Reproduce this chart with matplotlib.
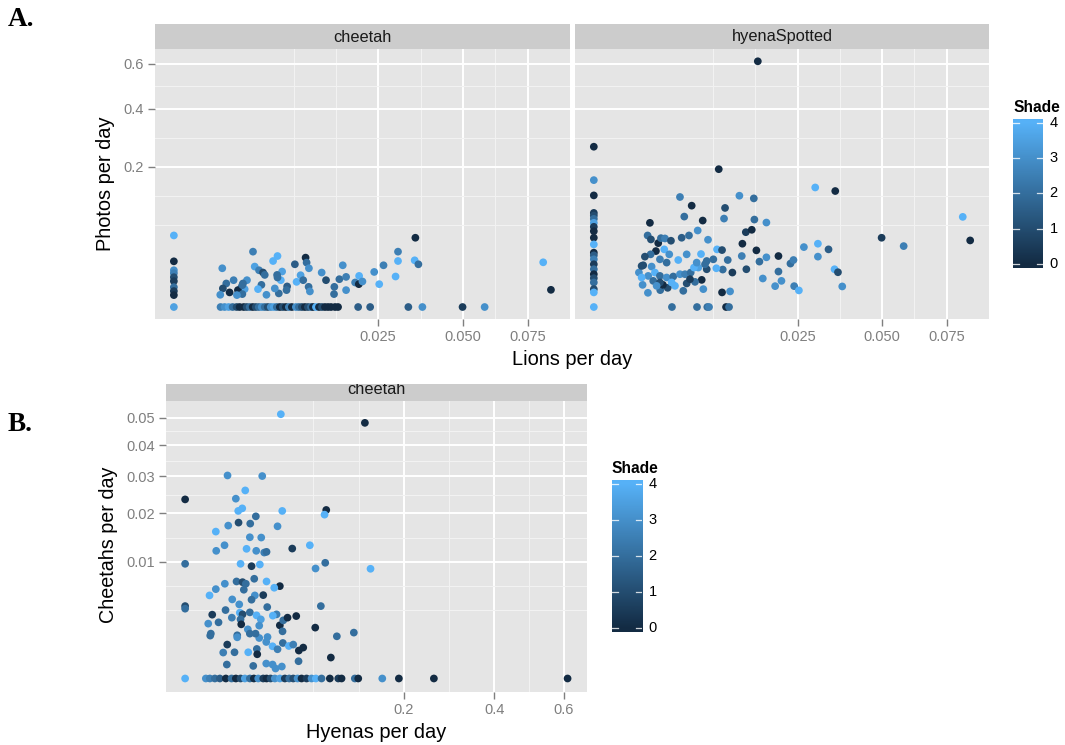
import numpy as np
import matplotlib
matplotlib.use("Agg")
import matplotlib.pyplot as plt
from matplotlib.colors import LinearSegmentedColormap

# ---------------- data ----------------
# Panel A, facet "cheetah": Lions per day vs cheetah photos per day
a_cheetah_lions = [
    0, 0, 0, 0, 0, 0, 0, 0, 0, 0,
    .001305, .00154, .001793, .002066, .002358, .00259, .002916, .003173, .003441, .003721,
    .004011, .004311, .004623, .004945, .005278, .005622, .005977, .006343, .006719, .007107,
    .007506, .007915, .008335, .008913, .009358, .009815, .01028, .01076, .01125, .01158,
    .01209, .01261, .01313, .01367, .01423, .01479, .01555, .01614,
    .02033, .02307, .03292, .03698, .0499, .05783,
    .001403, .003749, .00643, .005894, .003912, .004341, .004761, .004945, .007016, .00638,
    .006848, .008767, .01039, .01055, .01092, .009616, .009015, .01002, .01087, .01108,
    .007682, .0076, .006593, .006098, .00459, .00424, .005132, .0032, .002858, .002726,
    .003001, .002457, .002808, .002381, .002137, .001645, .001438, .001859, .001289, .01308,
    .01386, .01542, .01536, .0164, .01708, .01776, .01776, .01967, .02055, .02048,
    .02129, .02403, .02525, .02632, .02943, .03008, .03008, .03492, .03472, .0358,
    .08167, .08513, .00643, .002808,
]
a_cheetah_photos = [
    .052, .0212, .01373, .0116, .00902, .00678, .00401, .00257, .00144, 0,
    0, 0, 0, 0, 0, 0, 0, 0, 0, 0,
    0, 0, 0, 0, 0, 0, 0, 0, 0, 0,
    0, 0, 0, 0, 0, 0, 0, 0, 0, 0,
    0, 0, 0, 0, 0, 0, 0, 0,
    0, 0, 0, 0, 0, 0,
    .01525, .03111, .02639, .02149, .01661, .01373, .01207, .01046, .01278, .01046,
    .00731, .01854, .02477, .02003, .01525, .01027, .006418, .00731, .004132, .002472,
    .004297, .002898, .001882, .003506, .004986, .003249, .001517, .00731, .005632, .003891,
    .003249, .002898, .001695, .001444, .00731, .005632, .003506, .002167, .001517, .01207,
    .00731, .004132, .001695, .007861, .01769, .009206, .002898, .006117, .009823, .005304,
    .006623, .01249, .005304, .01769, .00945, .02149, .03111, .04871, .02215, .01854,
    .0203, .003001, .008845, .004853,
]
a_cheetah_shade = [
    4, 0, 3, 2.5, 1, 0.5, 2, 0.5, 0, 3.5,
    2.5, 3, 3.5, 2, 1, 0, 0, 1, 2, 0,
    1, 2, 3, 2, 1, 3, 3.5, 2, 0, 1,
    0, 2.5, 0, 3, 2, 1, 0, 1, 2, 0,
    4, 0, 1, 0, 0, 0, 0, 0,
    1.5, 1.5, 1.5, 3, 0.5, 3,
    3, 2.5, 4, 4, 3.5, 2.5, 1, 2, 3.5, 2,
    4, 1.5, 0, 2, 3, 3.5, 4, 2, 2, 3,
    1.5, 2, 2, 3, 2, 4, 3, 3, 2, 2,
    3.5, 0, 2, 3, 2.5, 2, 1, 0, 3, 3,
    1, 2, 2, 2, 3, 2.5, 3, 2.5, 4, 0,
    3, 3, 4, 2.5, 4, 4, 2.5, 0, 4, 2,
    4, 0, 2, 2,
]

# Panel A, facet "hyenaSpotted": Lions per day vs hyena photos per day
a_hyena_lions = [
    0, 0, 0, 0, 0, 0, 0, 0, 0, 0, 0, 0, 0, 0, 0, 0, 0, 0, 0, 0, 0, 0,
    .003673, .006405, .00775, .007985, .01052, .011,
    .01618, .00939, .02949, .03507, .004465, .01275, .0154, .005763, .01036, .004923,
    .0102, .01551, .01792, .001893, .007134, .08189, .006492, .0139, .01501, .04983,
    .08522, .05776, .004643, .005449, .007846, .01328, .03021, .02655, .03314, .03021,
    .0159, .009134, .009892, .01079, .01317, .0165, .01792, .02051, .02326, .02398,
    .02051, .01718, .02118, .01978, .02415, .0253, .03486, .03586, .03713, .014,
    .01155, .01, .009031, .008593, .006912, .006568, .007668, .007003, .007213, .009892,
    .01117, .004815, .005188, .003961, .00328, .002654, .002874, .001761, .001432, .001223,
    .001467, .001741, .001962, .002496, .00271, .003044, .00358, .00232, .002984, .003423,
    .005188, .00429, .003191, .00263, .001941, .00157, .001374, .00201, .002247, .00263,
    .003191, .003797, .004465, .005, .005646, .006037, .006368, .007439, .007668, .00178,
    .001374, .002123, .00263, .006159, .005564, .003645, .002373,
]
a_hyena_photos = [
    .2609, .1635, .1265, .08993, .08487, .0789, .07194, .0653, .05837, .04871,
    .0398, .03, .02711, .0231, .01854, .01448, .01092, .008433, .006117, .003249, .002167, 0,
    0, 0, 0, 0, 0, 0,
    .6131, .1929, .1451, .1366, .1229, .1258, .1198, .1043, .09967, .08303,
    .07942, .07765, .07245, .07194, .07589, .08249, .05945, .05685, .06054, .04871,
    .04501, .03768, .04871, .05198, .04596, .04069, .04069, .03646, .03373, .02577,
    .03258, .03373, .03292, .02243, .02639, .02094, .02507, .02639, .01915, .02243,
    .01278, .00826, .006936, .004422, .004422, .002796, .01448, .01228, .004297, .01448,
    .01207, .01425, .01525, .0231, .02849, .0158, .01448, .007473, .003249, .002167,
    .002472, .002664, .005632, .00455, .003735, .002898, .004986, .00205, .004986, .01207,
    .01769, .05198, .04637, .04146, .04815, .04774, .04461, .03178, .03373, .02817,
    .02817, .02243, .02003, .0231, .02817, .02577, .01711, .01661, .01207, .009823,
    .008845, .00945, .01092, .01092, .01207, .0158, .02003, .01854, .02149, .009823,
    .008845, .006936, .006117, .006418, .007861, .006117, .00455,
]
a_hyena_shade = [
    0, 3, 0, 0.5, 1, 2, 3.5, 0.5, 0, 0, 4, 0, 1.5, 2.5, 0.5, 2, 0, 1, 2, 1, 4, 4,
    2, 2, 2, 2.5, 0, 2,
    0, 0, 4, 0, 2.5, 3, 2, 0, 1, 2,
    2.5, 2, 3, 0, 0, 4, 3, 0.5, 0, 0.5,
    0, 2.5, 1.5, 2, 3, 0, 4, 3, 1.5, 3,
    0, 4, 1, 2, 2.5, 2, 3, 0, 2, 2.5,
    2, 3, 3, 3, 2.5, 4, 4, 1, 3, 1,
    0.5, 2, 4, 2, 4, 3.5, 1, 0, 3, 0,
    3, 2, 1, 4, 1, 2, 0, 3, 3, 3,
    1, 2, 1, 0, 2, 2.5, 1, 0, 4, 3,
    3, 4, 2, 2.5, 2, 1, 1, 3, 4, 2,
    3, 2, 3, 2.5, 2, 4, 3, 2, 2, 3,
    4, 2, 1, 2, 0.5, 4, 3,
]

# Panel B, facet "cheetah": Hyenas per day vs Cheetahs per day
b_hyenas = [
    0, 0, 0, 0, 0,
    .001792, .002551, .003689, .005036, .006928, .009004, .01075, .01284, .01491, .01751,
    .01974, .02235, .02551, .02771, .0305, .03365, .0375, .04157, .04532, .04887,
    .05284, .05666, .06163, .06682, .07144, .0778, .08756, .09803, .1023, .1204,
    .1253, .1625, .191, .2587, .6115,
    .0383, .1351, .007518, .02486, .01511, .01075, .01179, .01364, .03943, .08326,
    .08127, .0209, .01193, .01772, .007769, .0357, .003941, .01751, .02422, .006492,
    .004045, .01577, .02114, .02617, .02771, .04797, .06503, .01284, .01844, .02334,
    .07111, .08208, .1437, .01105, .01378, .01541, .01997, .02771, .0375, .0332,
    .006591, .003941, .00249, .0144, .02031, .02551, .01844, .009278, .01224, .02819,
    .006826, .01251, .01378, .01751, .02132, .003071, .00912, .01284, .02396, .03494,
    .03216, .05162, .0375, .04025, .04385, .004665, .002232, .01316, .01644, .02296,
    .07701, .09624, .07078, .08878, .119, .007412, .00607, .0102, .01665, .0215,
    .02174, .02751, .03195, .0357, .03992, .04497, .04887, .05406, .05833, .05378,
    .03967, .02751, .03195, .03911, .03418, .02296, .01751, .01135, .007272, .002635,
    .0194, .01135, .002762, .02839, .02073,
]
b_cheetahs = [
    .02356, .00966, .00385, .00358, 0,
    0, 0, 0, 0, 0, 0, 0, 0, 0, 0,
    0, 0, 0, 0, 0, 0, 0, 0, 0, 0,
    0, 0, 0, 0, 0, 0, 0, 0, 0, 0,
    0, 0, 0, 0, 0,
    .0513, .048, .03028, .0301, .02598, .02375, .02062, .02126, .02062, .02086,
    .01972, .01931, .01785, .01762, .01717, .01701, .01585, .01465, .01459, .01304,
    .01197, .01235, .01197, .01165, .01178, .0124, .01304, .00966, .009262, .009544,
    .008887, .00983, .00884, .006916, .006817, .006593, .007305, .006916, .006264, .006049,
    .006593, .005865, .005069, .005787, .005069, .005105, .004559, .004594, .004033, .003745,
    .003438, .003182, .00302, .003211, .002927, .002992, .002718, .002569, .002569, .00302,
    .0029, .002863, .002075, .002483, .002718, .002315, .00221, .002154, .001775, .002052,
    .00385, .001307, .0019, .000322, .001546, .000845, .000494, .000505, .000505, .00064,
    .000431, .000979, .000762, .000627, .000926, .000776, .000845, .000573, .000702, .000219,
    .001634, .000164, .000143, .000105, .000073, .001204, .001479, .00137, .000143, .001351,
    .000116, .001246, .001479, .001264, .001479,
]
b_shade = [
    0, 2, 1, 2, 4,
    3, 2.5, 2, 1.5, 0, 2, 0, 1, 3.5, 2,
    0, 3, 0.5, 0, 1, 3, 3.5, 0.5, 2, 1,
    3, 0, 0.5, 3, 4, 2, 0, 0.5, 0, 2,
    0, 3, 0, 0, 0,
    4, 0, 3, 3, 4, 3, 4, 4, 4, 0,
    4, 2, 1, 2, 3, 3, 4, 3, 3, 3,
    3, 4, 3, 2.5, 2, 0.5, 4, 4, 0.5, 4,
    3, 2, 4, 2, 1, 2, 2, 4, 0, 4,
    3, 3, 4, 2, 3, 0.5, 2, 3, 3, 2,
    2, 4, 1, 2, 4, 0.5, 2.5, 2, 3.5, 2.5,
    4, 0, 0, 2, 0, 2, 3, 0, 3, 3,
    2, 2, 0, 0, 2, 0.5, 2.5, 2, 4, 2,
    0, 3, 4, 2.5, 2, 4, 2.5, 0, 0, 2,
    2, 3, 3, 3, 3, 3, 2, 2, 2, 2,
    2, 3, 2, 3, 2,
]

shade_breaks = [0, 1, 2, 3, 4]
a_x_breaks = [0.025, 0.05, 0.075]
a_x_labels = ["0.025", "0.050", "0.075"]
a_y_breaks = [0.2, 0.4, 0.6]
a_y_labels = ["0.2", "0.4", "0.6"]
b_x_breaks = [0.2, 0.4, 0.6]
b_x_labels = ["0.2", "0.4", "0.6"]
b_y_breaks = [0.01, 0.02, 0.03, 0.04, 0.05]
b_y_labels = ["0.01", "0.02", "0.03", "0.04", "0.05"]

# ---------------- styling ----------------
W, H = 1065, 745
plt.rcParams["font.family"] = ["Liberation Sans", "DejaVu Sans"]
cmap = LinearSegmentedColormap.from_list("gg", ["#132B43", "#346E9D", "#56B1F7"])
PANEL_BG = "#E5E5E5"
STRIP_BG = "#CCCCCC"
GREY50 = "#7F7F7F"

fig = plt.figure(figsize=(W / 100, H / 100), dpi=100)
fig.patch.set_facecolor("white")


def fwd(x):
    x = np.asarray(x, dtype=float)
    return np.sign(x) * np.sqrt(np.abs(x))


def inv(y):
    y = np.asarray(y, dtype=float)
    return np.sign(y) * y ** 2


def px_axes(l, t, r, b):
    return fig.add_axes([l / W, 1 - b / H, (r - l) / W, (b - t) / H])


def expanded_limits(vals):
    s = fwd(vals)
    lo, hi = float(np.min(s)), float(np.max(s))
    d = (hi - lo) * 0.05
    return lo - d, hi + d


def minor_breaks(majors, lim):
    b = list(np.sqrt(majors))
    bd = b[1] - b[0]
    if lim[0] < b[0]:
        b = [b[0] - bd] + b
    if lim[1] > b[-1]:
        b = b + [b[-1] + bd]
    out = []
    for a, c in zip(b[:-1], b[1:]):
        out += [a, (a + c) / 2]
    out.append(b[-1])
    maj = np.sqrt(majors)
    res = [v for v in out if lim[0] <= v <= lim[1] and np.min(np.abs(maj - v)) > 1e-6]
    return [float(inv(v)) for v in res]


def setup_panel(ax, xl, yl, xb, xlab, yb, ylab, show_y=True):
    ax.set_facecolor(PANEL_BG)
    ax.set_xscale("function", functions=(fwd, inv))
    ax.set_yscale("function", functions=(fwd, inv))
    ax.set_xlim(float(inv(xl[0])), float(inv(xl[1])))
    ax.set_ylim(float(inv(yl[0])), float(inv(yl[1])))
    ax.set_xticks(xb)
    ax.set_xticklabels(xlab)
    ax.set_yticks(yb)
    ax.set_yticklabels(ylab if show_y else [])
    ax.set_xticks(minor_breaks(xb, xl), minor=True)
    ax.set_yticks(minor_breaks(yb, yl), minor=True)
    ax.grid(which="minor", color="#F2F2F2", lw=0.75)
    ax.grid(which="major", color="white", lw=1.4)
    ax.set_axisbelow(True)
    for sp in ax.spines.values():
        sp.set_visible(False)
    ax.tick_params(which="major", length=5, width=1.0, color=GREY50,
                   labelcolor=GREY50, labelsize=10.5, pad=3)
    ax.tick_params(which="minor", length=0)
    if not show_y:
        ax.tick_params(axis="y", which="both", length=0)


def strip(l, t, r, b, label, base_frac, clip=False):
    s = px_axes(l, t, r, b)
    s.set_facecolor(STRIP_BG)
    s.set_xticks([])
    s.set_yticks([])
    for sp in s.spines.values():
        sp.set_visible(False)
    s.text(0.5, base_frac, label, ha="center", va="baseline", fontsize=11.8,
           color="#1A1A1A", transform=s.transAxes, clip_on=clip)


def colorbar(l, t, r, b, title_base):
    cax = px_axes(l, t, r, b)
    vals = np.linspace(0, 4, 20)[:, None]
    cax.imshow(vals, cmap=cmap, vmin=0, vmax=4, aspect="auto", origin="lower",
               extent=[0, 1, 0, 20], interpolation="bilinear")
    cax.set_xlim(0, 1)
    cax.set_ylim(0, 20)
    cax.axis("off")
    for k in shade_breaks:
        yy = 0.5 + k / 4 * 19
        cax.plot([0, 0.2], [yy, yy], color="white", lw=0.9, alpha=0.8)
        cax.plot([0.8, 1], [yy, yy], color="white", lw=0.9, alpha=0.8)
        cax.text(1 + 7 / (r - l), yy, str(k), ha="left", va="center",
                 fontsize=10.5, color="black", clip_on=False)
    fig.text(l / W, 1 - title_base / H, "Shade", ha="left", va="baseline",
             fontsize=11.2, fontweight="bold", color="black")


SC = dict(cmap=cmap, vmin=0, vmax=4, s=31, linewidths=0, zorder=3)

# ---------------- Panel A ----------------
a_xlim = expanded_limits(a_cheetah_lions + a_hyena_lions)
a_ylim = expanded_limits(a_cheetah_photos + a_hyena_photos)

ax1 = px_axes(155, 49, 570, 319.3)
setup_panel(ax1, a_xlim, a_ylim, a_x_breaks, a_x_labels, a_y_breaks, a_y_labels)
ax1.scatter(a_cheetah_lions, a_cheetah_photos, c=a_cheetah_shade, **SC)
strip(155, 24, 570, 49, "cheetah", 0.3)

ax2 = px_axes(575, 49, 989, 319.3)
setup_panel(ax2, a_xlim, a_ylim, a_x_breaks, a_x_labels, a_y_breaks, a_y_labels, show_y=False)
ax2.scatter(a_hyena_lions, a_hyena_photos, c=a_hyena_shade, **SC)
strip(575, 24, 989, 49, "hyenaSpotted", 0.3)

colorbar(1013, 119, 1042.7, 267.7, 112.3)

fig.text(572 / W, 1 - 365 / H, "Lions per day", ha="center", va="baseline", fontsize=14.4)
fig.text(105.5 / W, 1 - 184 / H, "Photos per day", ha="center", va="center",
         rotation=90, fontsize=14.4)

# ---------------- Panel B ----------------
b_xlim = expanded_limits(b_hyenas)
b_ylim = expanded_limits(b_cheetahs)

ax3 = px_axes(166, 401, 586.7, 691.7)
setup_panel(ax3, b_xlim, b_ylim, b_x_breaks, b_x_labels, b_y_breaks, b_y_labels)
ax3.scatter(b_hyenas, b_cheetahs, c=b_shade, **SC)
strip(166, 384, 586.7, 401, "cheetah", 0.41, clip=True)

colorbar(611.5, 480, 641.7, 631.7, 472.7)

fig.text(376.3 / W, 1 - 738.3 / H, "Hyenas per day", ha="center", va="baseline", fontsize=14.4)
fig.text(108 / W, 1 - 545 / H, "Cheetahs per day", ha="center", va="center",
         rotation=90, fontsize=14.2)

# ---------------- panel tags ----------------
fig.text(8 / W, 1 - 26 / H, "A.", ha="left", va="baseline", fontsize=19.5,
         fontweight="bold", family=["Liberation Serif", "DejaVu Serif"])
fig.text(8 / W, 1 - 431 / H, "B.", ha="left", va="baseline", fontsize=19.5,
         fontweight="bold", family=["Liberation Serif", "DejaVu Serif"])

fig.savefig("out.png", dpi=100, facecolor="white")
